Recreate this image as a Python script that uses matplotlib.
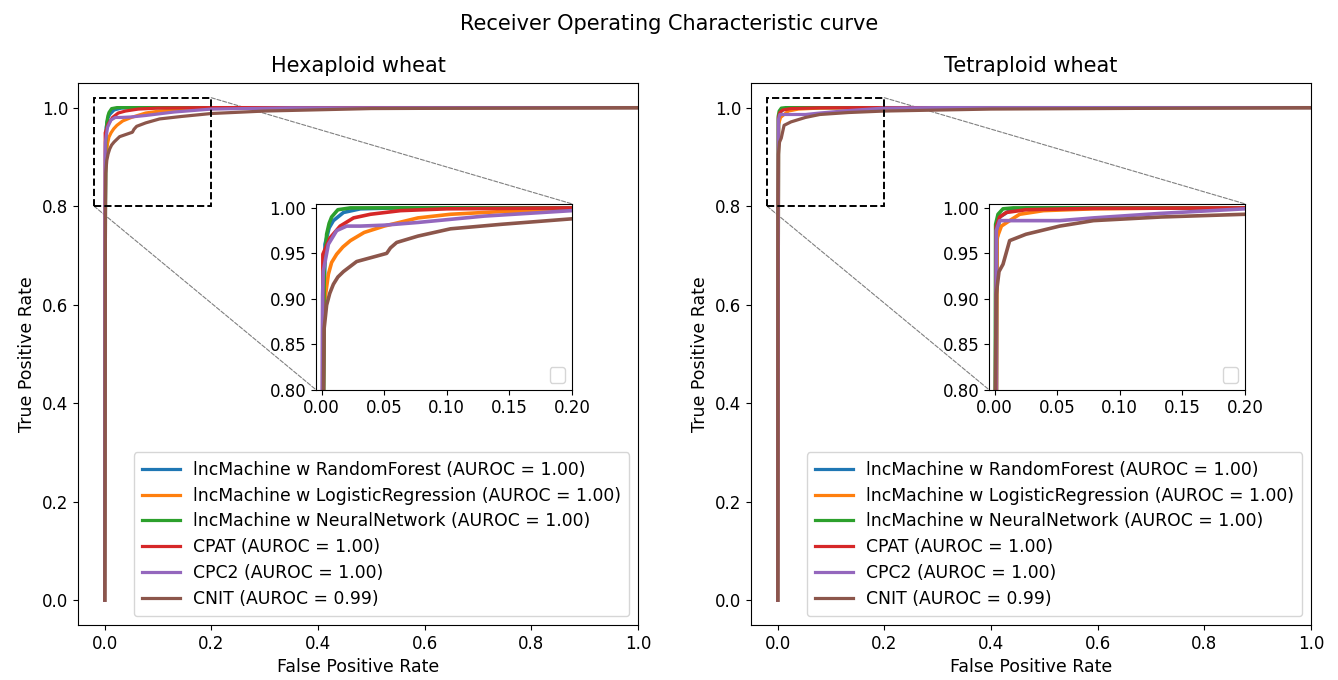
import numpy as np
import matplotlib.pyplot as plt
from matplotlib.patches import Rectangle, ConnectionPatch

labels = ['lncMachine w RandomForest (AUROC = 1.00)',
          'lncMachine w LogisticRegression (AUROC = 1.00)',
          'lncMachine w NeuralNetwork (AUROC = 1.00)',
          'CPAT (AUROC = 1.00)',
          'CPC2 (AUROC = 1.00)',
          'CNIT (AUROC = 0.99)']
panel_titles = ['Hexaploid wheat', 'Tetraploid wheat']

# hexaploid curves (fpr, tpr)
hex_rf_fpr = [0, 0.0015, 0.0027, 0.006, 0.0094, 0.0175, 0.031, 0.06, 1.0]
hex_rf_tpr = [0, 0.80, 0.960, 0.978, 0.986, 0.995, 0.999, 1.0, 1.0]
hex_lr_fpr = [0, 0.0015, 0.002, 0.0054, 0.008, 0.012, 0.017, 0.023, 0.034, 0.050, 0.077, 0.103, 0.144, 0.2, 0.3, 1.0]
hex_lr_tpr = [0, 0.80, 0.893, 0.927, 0.940, 0.949, 0.957, 0.964, 0.973, 0.980, 0.989, 0.993, 0.996, 0.998, 0.9995, 1.0]
hex_nn_fpr = [0, 0.0015, 0.002, 0.004, 0.006, 0.008, 0.013, 0.023, 1.0]
hex_nn_tpr = [0, 0.80, 0.930, 0.971, 0.983, 0.990, 0.998, 1.0, 1.0]
hex_cpat_fpr = [0, 0.0008, 0.001, 0.0067, 0.0148, 0.0255, 0.039, 0.063, 0.10, 0.2, 1.0]
hex_cpat_tpr = [0, 0.80, 0.949, 0.967, 0.980, 0.989, 0.993, 0.997, 0.999, 1.0, 1.0]
hex_cpc2_fpr = [0, 0.0005, 0.0008, 0.0013, 0.0054, 0.012, 0.020, 0.031, 0.05, 0.077, 0.13, 0.2, 0.35, 1.0]
hex_cpc2_tpr = [0, 0.80, 0.904, 0.930, 0.960, 0.975, 0.980, 0.980, 0.981, 0.984, 0.991, 0.997, 0.9995, 1.0]
hex_cnit_fpr = [0, 0.0015, 0.002, 0.004, 0.0065, 0.0094, 0.013, 0.0175, 0.028, 0.044, 0.052, 0.055, 0.060, 0.077, 0.103, 0.144, 0.2, 0.3, 0.5, 1.0]
hex_cnit_tpr = [0, 0.80, 0.867, 0.893, 0.906, 0.916, 0.924, 0.930, 0.941, 0.947, 0.950, 0.956, 0.962, 0.969, 0.977, 0.982, 0.988, 0.993, 0.998, 1.0]

# tetraploid curves
tet_rf_fpr = [0, 0.0015, 0.002, 0.004, 0.012, 0.025, 1.0]
tet_rf_tpr = [0, 0.80, 0.965, 0.990, 0.997, 1.0, 1.0]
tet_lr_fpr = [0, 0.0015, 0.0019, 0.0054, 0.012, 0.020, 0.039, 0.079, 0.15, 1.0]
tet_lr_tpr = [0, 0.80, 0.967, 0.980, 0.986, 0.993, 0.997, 0.999, 1.0, 1.0]
tet_nn_fpr = [0, 0.0005, 0.0008, 0.0027, 0.0067, 0.015, 1.0]
tet_nn_tpr = [0, 0.80, 0.982, 0.993, 0.999, 1.0, 1.0]
tet_cpat_fpr = [0, 0.001, 0.0013, 0.004, 0.0094, 0.025, 0.079, 0.2, 1.0]
tet_cpat_tpr = [0, 0.80, 0.979, 0.990, 0.995, 0.998, 0.9995, 1.0, 1.0]
tet_cpc2_fpr = [0, 0.001, 0.0013, 0.004, 0.012, 0.052, 0.079, 0.133, 0.2, 0.3, 1.0]
tet_cpc2_tpr = [0, 0.80, 0.975, 0.986, 0.986, 0.986, 0.989, 0.994, 0.999, 1.0, 1.0]
tet_cnit_fpr = [0, 0.0005, 0.0013, 0.0035, 0.0067, 0.012, 0.025, 0.052, 0.079, 0.133, 0.2, 0.4, 1.0]
tet_cnit_tpr = [0, 0.80, 0.905, 0.930, 0.938, 0.964, 0.971, 0.980, 0.986, 0.990, 0.993, 0.997, 1.0]

hex_curves = [(hex_rf_fpr, hex_rf_tpr), (hex_lr_fpr, hex_lr_tpr), (hex_nn_fpr, hex_nn_tpr),
              (hex_cpat_fpr, hex_cpat_tpr), (hex_cpc2_fpr, hex_cpc2_tpr), (hex_cnit_fpr, hex_cnit_tpr)]
tet_curves = [(tet_rf_fpr, tet_rf_tpr), (tet_lr_fpr, tet_lr_tpr), (tet_nn_fpr, tet_nn_tpr),
              (tet_cpat_fpr, tet_cpat_tpr), (tet_cpc2_fpr, tet_cpc2_tpr), (tet_cnit_fpr, tet_cnit_tpr)]

colors = ['tab:blue', 'tab:orange', 'tab:green', 'tab:red', 'tab:purple', 'tab:brown']

fig = plt.figure(figsize=(13.38, 6.8), dpi=100)
fig.suptitle('Receiver Operating Characteristic curve', fontsize=15, y=0.98)
ax1 = fig.add_axes([0.0583, 0.081, 0.4185, 0.797])
ax2 = fig.add_axes([0.5613, 0.081, 0.4185, 0.797])

for ax, curves, title in zip([ax1, ax2], [hex_curves, tet_curves], panel_titles):
    for (fpr, tpr), c, lab in zip(curves, colors, labels):
        ax.plot(fpr, tpr, color=c, lw=2.3, label=lab)
    ax.set_xlim(-0.05, 1.0)
    ax.set_ylim(-0.05, 1.05)
    ax.set_xticks(np.arange(0, 1.01, 0.2))
    ax.set_yticks(np.arange(0, 1.01, 0.2))
    ax.tick_params(labelsize=12)
    ax.set_xlabel('False Positive Rate', fontsize=12.5)
    ax.set_ylabel('True Positive Rate', fontsize=12.5)
    ax.set_title(title, fontsize=15, pad=8)
    ax.legend(loc='lower right', fontsize=12.4, handlelength=2.2, handletextpad=0.72,
              borderpad=0.5, labelspacing=0.45)

    # zoomed inset
    axins = ax.inset_axes([0.425, 0.434, 0.457, 0.343])
    for (fpr, tpr), c in zip(curves, colors):
        axins.plot(fpr, tpr, color=c, lw=2.6)
    axins.set_xlim(-0.0045, 0.2)
    axins.set_ylim(0.8, 1.0045)
    axins.set_xticks(np.arange(0, 0.201, 0.05))
    axins.set_yticks(np.arange(0.8, 1.001, 0.05))
    axins.tick_params(labelsize=12)
    axins.legend(handles=[], loc='lower right', borderpad=0.55)

    ax.add_patch(Rectangle((-0.02, 0.8), 0.22, 0.22, fill=False, ec='black', ls='--', lw=1.4, zorder=5))
    for xy_a, xy_b in [((0.2, 1.02), (1, 1)), ((-0.02, 0.8), (0, 0))]:
        con = ConnectionPatch(xyA=xy_a, coordsA=ax.transData, xyB=xy_b, coordsB=axins.transAxes,
                              color='gray', ls='--', lw=0.8)
        ax.add_artist(con)

plt.savefig('out.png', dpi=100)
